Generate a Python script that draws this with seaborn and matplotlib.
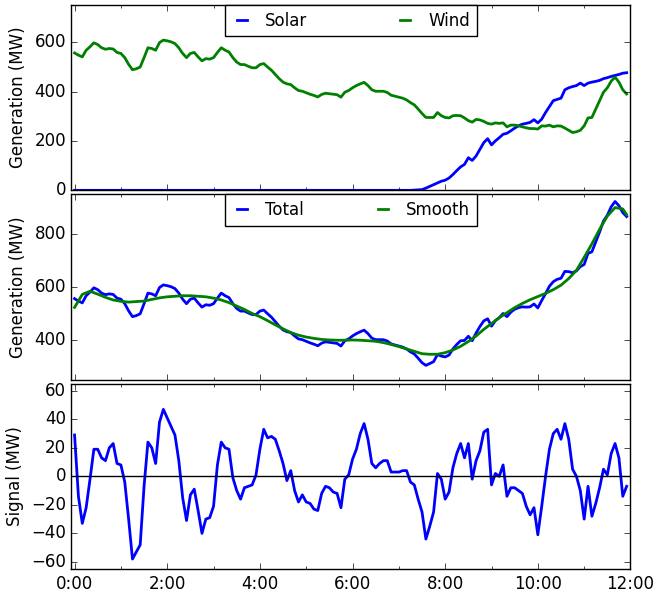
import numpy as np
import matplotlib
matplotlib.use("Agg")
import matplotlib.pyplot as plt
from matplotlib.ticker import MultipleLocator, FuncFormatter
import seaborn as sns

# 5-minute samples, 0:00 .. 11:55
minutes = np.arange(0, 720, 5)
hours = minutes / 60.0

solar = [0] * 86 + [
    0, 0, 1, 2, 3, 9, 16, 23, 30, 37, 41, 50, 64, 80,
    95, 105, 132, 121, 139, 166, 193, 209, 184, 200,
    213, 227, 231, 241, 252, 261, 268, 271, 275, 286,
    273, 288, 315, 339, 363, 368, 373, 407, 415, 420,
    424, 434, 424, 434, 438, 441, 445, 452, 456, 461,
    465, 469, 474, 476]

wind = [
    556, 547, 540, 567, 581, 597, 590, 577, 571, 574,
    572, 558, 554, 537, 510, 488, 492, 499, 537, 577,
    574, 567, 598, 608, 605, 601, 594, 577, 554, 537,
    554, 558, 540, 524, 533, 531, 537, 558, 577, 567,
    560, 537, 519, 509, 509, 502, 496, 496, 509, 513,
    499, 486, 469, 452, 438, 431, 428, 415, 404, 401,
    395, 389, 384, 378, 388, 393, 391, 389, 387, 377,
    397, 404, 415, 424, 431, 437, 424, 407, 401, 401,
    401, 396, 385, 381, 377, 373, 366, 355, 346, 329,
    311, 295, 295, 295, 315, 302, 295, 293, 302, 303,
    302, 293, 282, 276, 287, 285, 279, 271, 268, 273,
    271, 273, 257, 264, 264, 261, 257, 253, 250, 250,
    248, 261, 260, 264, 257, 261, 260, 252, 243, 234,
    237, 243, 261, 293, 295, 329, 363, 397, 415, 442,
    458, 438, 407, 390]

# smoothed total, 10-minute samples plus the last point
smooth_minutes = list(range(0, 720, 10)) + [715]
smooth = [
    523, 572, 584, 573, 561, 551, 546, 543, 545, 547,
    553, 559, 563, 565, 567, 567, 565, 563, 558, 551,
    541, 528, 515, 500, 488, 473, 457, 442, 428, 418,
    411, 406, 402, 400, 399, 399, 400, 399, 397, 395,
    390, 383, 375, 366, 357, 348, 346, 346, 352, 362,
    376, 394, 415, 440, 462, 484, 503, 522, 538, 552,
    564, 576, 590, 607, 632, 663, 712, 763, 818, 868,
    900, 895, 873]

signal = [
    29, -14, -33, -22, -2, 19, 19, 13, 11, 20,
    23, 9, 8, -4, -30, -58, -53, -48, -7, 24,
    20, 9, 38, 47, 41, 35, 29, 11, -15, -31,
    -13, -9, -24, -40, -30, -29, -21, 8, 24, 20,
    19, -1, -10, -16, -8, -7, -6, 1, 19, 33,
    27, 28, 26, 18, 9, -3, 4, -10, -18, -13,
    -18, -19, -23, -24, -12, -7, -8, -11, -12, -22,
    -2, 1, 12, 19, 30, 37, 26, 9, 6, 9,
    11, 11, 3, 3, 3, 4, 4, -4, -6, -16,
    -25, -44, -35, -25, 2, -2, -16, -11, 6, 16,
    23, 13, 23, -2, 11, 18, 31, 33, -6, 2,
    0, 8, -14, -8, -8, -10, -12, -21, -27, -22,
    -41, -21, 0, 19, 30, 33, 26, 37, 26, 5,
    0, -10, -30, -7, -28, -19, -8, 5, 1, 16,
    23, 13, -14, -7]

total = np.array(solar) + np.array(wind)
smooth_hours = np.array(smooth_minutes) / 60.0

plt.style.use("classic")
plt.rcParams["figure.facecolor"] = "white"
plt.rcParams["savefig.facecolor"] = "white"
plt.rcParams["font.family"] = ["DejaVu Sans"]

fig, axes = plt.subplots(3, 1, sharex=True, figsize=(6.6, 5.97), dpi=100)
fig.subplots_adjust(left=0.1083, right=0.9553, bottom=0.0469, top=0.9916, hspace=0.0216)
ax1, ax2, ax3 = axes

sns.lineplot(x=hours, y=solar, ax=ax1, color="b", lw=2, label="Solar")
sns.lineplot(x=hours, y=wind, ax=ax1, color="g", lw=2, label="Wind")
ax1.set_ylim(0, 750)
ax1.set_yticks([0, 200, 400, 600])
ax1.set_ylabel("Generation (MW)")

sns.lineplot(x=hours, y=total, ax=ax2, color="b", lw=2, label="Total")
sns.lineplot(x=smooth_hours, y=smooth, ax=ax2, color="g", lw=2, label="Smooth")
ax2.set_ylim(250, 950)
ax2.set_yticks([400, 600, 800])
ax2.set_ylabel("Generation (MW)")

sns.lineplot(x=hours, y=signal, ax=ax3, color="b", lw=2, legend=False)
ax3.axhline(0, color="k", lw=1)
ax3.set_ylim(-65, 65)
ax3.set_yticks(range(-60, 61, 20))
ax3.set_ylabel("Signal (MW)")

for ax in (ax1, ax2):
    ax.legend(loc="upper center", bbox_to_anchor=(0.275, 0.0, 0.45, 1.0),
              mode="expand", ncol=2, borderaxespad=0, handlelength=1.2,
              fancybox=False, framealpha=1, edgecolor="k", fontsize=12)

for ax in axes:
    ax.set_xlim(-4 / 60, 12)
    ax.xaxis.set_major_locator(MultipleLocator(2))
    ax.xaxis.set_minor_locator(MultipleLocator(1))
    ax.xaxis.set_major_formatter(FuncFormatter(lambda v, p: "%d:00" % round(v)))
    ax.set_xlabel("")

fig.savefig("out.png", dpi=100)
